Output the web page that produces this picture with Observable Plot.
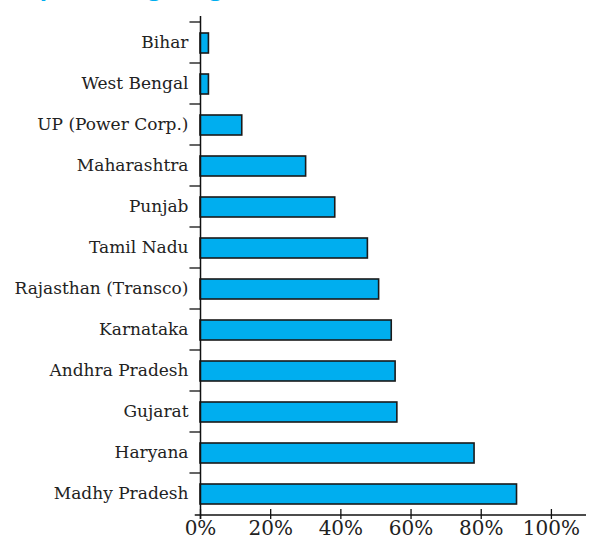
<!DOCTYPE html>
<html>
<head>
<meta charset="utf-8">
<script src="https://cdn.jsdelivr.net/npm/d3@7"></script>
<script src="https://cdn.jsdelivr.net/npm/@observablehq/plot@0.6"></script>
<style>
  html, body { margin: 0; padding: 0; background: #fff; width: 595px; height: 545px; overflow: hidden; }
  #wrap { position: relative; width: 595px; height: 545px; }
  #title { position: absolute; left: 10px; top: 0; height: 9px; overflow: hidden; width: 585px; z-index: 2; }
  #title span { display: block; margin-top: -29px; font-family: "Open Sans", sans-serif; font-weight: 700; font-size: 24px; line-height: 30px; color: #00AEEF; white-space: nowrap; }
</style>
</head>
<body>
<div id="wrap">
  <div id="title"><span>Capital Budgeting Practice in State Utilities, 2005</span></div>
  <div id="chart"></div>
</div>
<script>
const states = ["Bihar", "West Bengal", "UP (Power Corp.)", "Maharashtra", "Punjab", "Tamil Nadu",
  "Rajasthan (Transco)", "Karnataka", "Andhra Pradesh", "Gujarat", "Haryana", "Madhy Pradesh"];
const shares = [0.024, 0.024, 0.119, 0.301, 0.384, 0.477, 0.509, 0.545, 0.556, 0.561, 0.781, 0.902];
const xTicks = [0, 0.2, 0.4, 0.6, 0.8, 1.0];

const data = states.map((s, i) => ({state: s, value: shares[i]}));
const last = states[states.length - 1];

const chart = Plot.plot({
  width: 595,
  height: 545,
  marginTop: 16,
  marginBottom: 26,
  marginLeft: 200,
  marginRight: 9,
  style: {fontFamily: "'DejaVu Serif', serif", background: "#fff", color: "#222"},
  x: {domain: [0, 1.1], axis: null},
  y: {domain: states, padding: 0, axis: null},
  marks: [
    Plot.barX(data, {y: "state", x: "value", fill: "#00AEEF", stroke: "#1a1a1a", strokeWidth: 1.6, insetTop: 11, insetBottom: 10}),
    Plot.ruleY(states, {y: d => d, dy: -21, x1: -0.03, x2: 0, stroke: "#111", strokeWidth: 1.3}),
    Plot.ruleX([0], {stroke: "#111", strokeWidth: 1.5}),
    Plot.ruleY([last], {y: d => d, dy: 21, x1: -0.015, x2: 1.1, stroke: "#111", strokeWidth: 1.3}),
    Plot.axisY({anchor: "left", tickSize: 0, tickPadding: 12, fontSize: 17, fill: "#222", label: null}),
    Plot.axisX(xTicks, {anchor: "bottom", label: null, tickSize: 10, tickFormat: d => Math.round(d * 100) + "%", fontSize: 20, fill: "#222", stroke: "#111", strokeWidth: 1.3, tickPadding: 1, dy: -10})
  ]
});
document.getElementById("chart").appendChild(chart);
</script>
</body>
</html>
